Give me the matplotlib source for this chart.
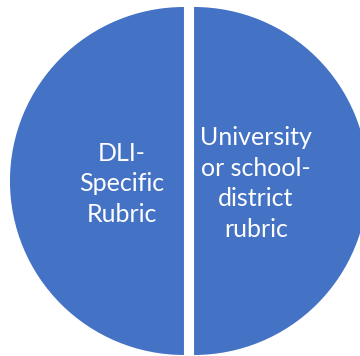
import matplotlib
matplotlib.use("Agg")
import matplotlib.pyplot as plt

# Two equal halves of the pie
labels = ["DLI-\nSpecific\nRubric", "University\nor school-\ndistrict\nrubric"]
shares = [50, 50]
colors = ["#4472C4", "#4472C4"]

plt.rcParams['font.family'] = ['Lato', 'DejaVu Sans']

fig = plt.figure(figsize=(3.6, 3.56), dpi=100)
ax = fig.add_axes([0, 0, 1, 1])

wedges, texts = ax.pie(shares, labels=labels, colors=colors, startangle=90,
                       explode=[0.029, 0.029], labeldistance=0.355,
                       wedgeprops={'linewidth': 0},
                       textprops={'color': 'white', 'fontsize': 18, 'ha': 'center',
                                  'va': 'center', 'multialignment': 'center',
                                  'linespacing': 1.4})

# nudge labels down a little
for t in texts:
    x, y = t.get_position()
    t.set_position((x, y - 0.015))

# place pie: center at (189, 181) px, radius 174 px
r_px = 174
ax.set_aspect('auto')
ax.set_xlim(-189 / r_px, (360 - 189) / r_px)
ax.set_ylim(-(356 - 181) / r_px, 181 / r_px)
ax.axis('off')

fig.savefig("out.png", dpi=100, facecolor='white')
